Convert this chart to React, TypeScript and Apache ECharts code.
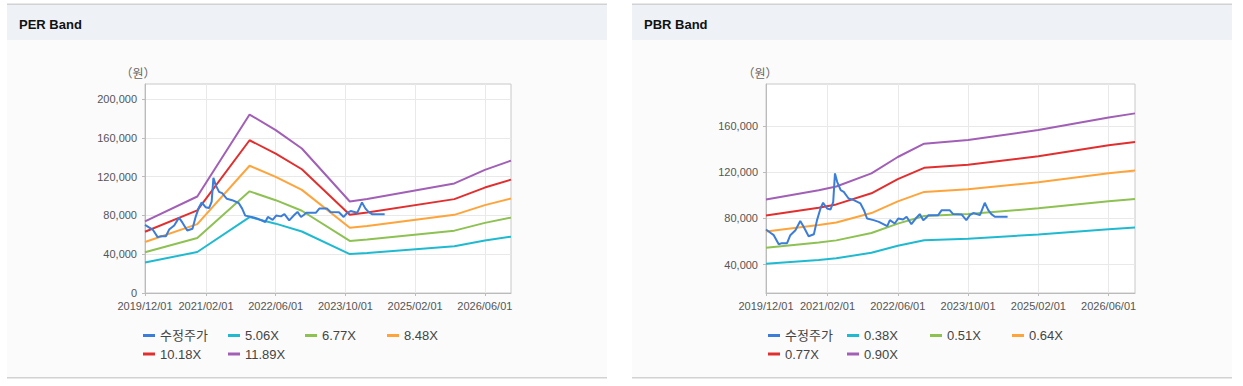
import React, { useEffect, useRef } from 'react';
import * as echarts from 'echarts';

// ---------- data ----------
const X_LABEL_DATES = ['2019/12/01', '2021/02/01', '2022/06/01', '2023/10/01', '2025/02/01', '2026/06/01'];
const AXIS_END_DATE = '2026/12/01';

const PRICE_NAME = '수정주가';
const PRICE_DATES = [
  '2019/12/01', '2020/01/01', '2020/01/24', '2020/02/28', '2020/03/19', '2020/04/25', '2020/05/17',
  '2020/06/22', '2020/07/25', '2020/08/19', '2020/09/22', '2020/10/28', '2020/11/19', '2020/12/13',
  '2021/01/01', '2021/01/28', '2021/02/22', '2021/03/10', '2021/03/22', '2021/04/07', '2021/05/01',
  '2021/05/22', '2021/06/25', '2021/08/01', '2021/09/16', '2021/10/10', '2021/11/01', '2021/12/16',
  '2022/01/22', '2022/03/19', '2022/04/07', '2022/05/10', '2022/06/04', '2022/07/07', '2022/08/01',
  '2022/09/04', '2022/10/10', '2022/11/01', '2022/11/25', '2022/12/16', '2023/01/01', '2023/03/07',
  '2023/04/01', '2023/05/25', '2023/06/19', '2023/08/16', '2023/09/19', '2023/10/13', '2023/11/07',
  '2023/12/22', '2024/01/25', '2024/02/19', '2024/03/10', '2024/04/04', '2024/07/01',
];
const PRICE_VALUES = [
  70300, 67500, 65400, 57600, 58500, 58500, 65400,
  69700, 77700, 72500, 64500, 66200, 78200, 88500,
  93400, 88500, 87600, 94200, 118800, 111500, 104300,
  102900, 97100, 95700, 92800, 87000, 79800, 78400,
  76900, 73200, 78400, 75500, 79800, 79000, 81300,
  74900, 80700, 83600, 78400, 80700, 82700, 82700,
  87000, 87000, 83600, 83300, 78400, 82700, 84500,
  82700, 93400, 87000, 83600, 81300, 81300,
];

// PER band
const PER_BAND_NAMES = ['5.06X', '6.77X', '8.48X', '10.18X', '11.89X'];
const PER_BAND_DATES = [
  '2019/12/01', '2020/12/01', '2021/12/01', '2022/06/01', '2022/12/01',
  '2023/11/01', '2024/03/01', '2025/11/01', '2026/06/01', '2026/12/01',
];
const PER_5_06X = [31400, 42300, 78300, 71500, 63400, 40100, 41300, 48100, 54100, 58100];
const PER_6_77X = [42000, 56700, 104800, 95700, 84800, 53700, 55200, 64300, 72300, 77700];
const PER_8_48X = [52600, 71000, 131200, 119800, 106300, 67300, 69200, 80600, 90600, 97400];
const PER_10_18X = [63200, 85200, 157500, 143800, 127600, 80700, 83100, 96800, 108700, 116900];
const PER_11_89X = [73800, 99500, 184000, 168000, 149000, 94300, 97000, 113000, 127000, 136500];
const PER_Y_TICKS = [0, 40000, 80000, 120000, 160000, 200000];

// PBR band
const PBR_BAND_NAMES = ['0.38X', '0.51X', '0.64X', '0.77X', '0.90X'];
const PBR_BAND_DATES = [
  '2019/12/01', '2020/12/01', '2021/04/01', '2021/12/01', '2022/06/01',
  '2022/12/01', '2023/10/01', '2025/02/01', '2026/06/01', '2026/12/01',
];
const PBR_0_38X = [40700, 44000, 45400, 50200, 56200, 61000, 62300, 66000, 70600, 72100];
const PBR_0_51X = [54600, 59100, 60900, 67300, 75400, 81900, 83600, 88600, 94700, 96700];
const PBR_0_64X = [68500, 74200, 76400, 84500, 94600, 102800, 105000, 111200, 118900, 121400];
const PBR_0_77X = [82400, 89200, 92000, 101600, 113800, 123600, 126300, 133700, 143100, 146000];
const PBR_0_90X = [96300, 104300, 107500, 118800, 133000, 144500, 147600, 156300, 167200, 170700];
const PBR_Y_TICKS = [40000, 80000, 120000, 160000];

// ---------- styling ----------
const PRICE_COLOR = '#3b7dd8';
const BAND_COLORS = ['#1fbad0', '#8dc152', '#ffa43a', '#e12f2f', '#a15fb6'];
const FONT = '"Liberation Sans", Arial, "Noto Sans CJK KR", sans-serif';

function monthIndex(d: string): number {
  const [y, m, dd] = d.split('/').map(Number);
  return (y - 2019) * 12 + (m - 12) + (dd - 1) / 30;
}

const X_TICKS = X_LABEL_DATES.map(monthIndex);
const X_MAX = monthIndex(AXIS_END_DATE);

function xLabel(v: number): string {
  const i = X_TICKS.findIndex((t) => Math.abs(t - v) < 0.01);
  return i >= 0 ? X_LABEL_DATES[i] : '';
}

function pairs(dates: string[], vals: number[]) {
  return dates.map((d, i) => [monthIndex(d), vals[i]]);
}

function buildAxes(gridIndex: number, yMin: number, yMax: number, yTicks: number[]) {
  const x = {
    type: 'value',
    gridIndex,
    min: 0,
    max: X_MAX,
    axisLine: { show: true, lineStyle: { color: '#bbbbbb' } },
    axisTick: { show: true, customValues: X_TICKS, length: 3, lineStyle: { color: '#bbbbbb' } },
    axisLabel: {
      customValues: X_TICKS,
      formatter: (v: number) => xLabel(v),
      fontSize: 11,
      color: '#555555',
      fontFamily: FONT,
      margin: 7,
    },
    splitLine: { show: true, lineStyle: { color: '#e9e9e9', width: 1 } },
  };
  const y = {
    type: 'value',
    gridIndex,
    min: yMin,
    max: yMax,
    axisLine: { show: true, lineStyle: { color: '#bbbbbb' } },
    axisTick: { show: true, customValues: yTicks, length: 3, lineStyle: { color: '#bbbbbb' } },
    axisLabel: {
      customValues: yTicks,
      formatter: (v: number) => v.toLocaleString('en-US'),
      fontSize: 11,
      color: '#555555',
      fontFamily: FONT,
      margin: 8,
    },
    splitLine: { show: true, lineStyle: { color: '#e9e9e9', width: 1 } },
  };
  return { x, y };
}

function lineSeries(name: string, data: number[][], color: string, idx: number, z: number) {
  return {
    type: 'line',
    name,
    data,
    xAxisIndex: idx,
    yAxisIndex: idx,
    showSymbol: false,
    symbol: 'none',
    color,
    lineStyle: { color, width: 2 },
    z,
  };
}

function legendItems(names: string[], positions: number[][]) {
  return names.map((n, i) => ({
    data: [n],
    left: positions[i][0],
    top: positions[i][1],
    icon: 'rect',
    itemWidth: 12,
    itemHeight: 3,
    padding: 0,
    selectedMode: false,
    textStyle: { fontSize: 13, color: '#444444', fontFamily: FONT },
  }));
}

function panel(x: number, title: string, unitX: number) {
  return [
    { type: 'rect', z: -100, shape: { x, y: 40, width: 600, height: 337 }, style: { fill: '#fbfbfb' } },
    { type: 'rect', z: -100, shape: { x, y: 5, width: 600, height: 35 }, style: { fill: '#eef2f7' } },
    { type: 'rect', z: -100, shape: { x, y: 3.5, width: 600, height: 1.5 }, style: { fill: '#d2d2d2' } },
    { type: 'rect', z: -100, shape: { x, y: 377, width: 600, height: 1.5 }, style: { fill: '#d2d2d2' } },
    {
      type: 'text',
      x: x + 12,
      y: 24,
      style: {
        text: title,
        fill: '#111111',
        font: `bold 13px ${FONT}`,
        textVerticalAlign: 'middle',
        verticalAlign: 'middle',
      },
    },
    {
      type: 'text',
      x: unitX,
      y: 72,
      style: {
        text: '（원）',
        fill: '#666666',
        font: `12px "Noto Sans CJK KR", sans-serif`,
        align: 'center',
        textAlign: 'center',
        verticalAlign: 'middle',
        textVerticalAlign: 'middle',
      },
    },
  ];
}

export default function App() {
  const ref = useRef<HTMLDivElement>(null);

  useEffect(() => {
    if (!ref.current) return;
    const chart = echarts.init(ref.current, undefined, { renderer: 'svg' });

    const perAxes = buildAxes(0, 0, 215500, PER_Y_TICKS);
    const pbrAxes = buildAxes(1, 15400, 196100, PBR_Y_TICKS);

    const perBands = [PER_5_06X, PER_6_77X, PER_8_48X, PER_10_18X, PER_11_89X];
    const pbrBands = [PBR_0_38X, PBR_0_51X, PBR_0_64X, PBR_0_77X, PBR_0_90X];

    const series: any[] = [];
    perBands.forEach((vals, i) =>
      series.push(lineSeries(PER_BAND_NAMES[i], pairs(PER_BAND_DATES, vals), BAND_COLORS[i], 0, 2))
    );
    series.push(lineSeries(PRICE_NAME, pairs(PRICE_DATES, PRICE_VALUES), PRICE_COLOR, 0, 3));
    pbrBands.forEach((vals, i) =>
      series.push(lineSeries(PBR_BAND_NAMES[i], pairs(PBR_BAND_DATES, vals), BAND_COLORS[i], 1, 2))
    );
    series.push(lineSeries(PRICE_NAME, pairs(PRICE_DATES, PRICE_VALUES), PRICE_COLOR, 1, 3));

    const perLegendPos = [[143, 329], [228, 329], [305, 329], [387, 329], [143, 347.5], [228, 347.5]];
    const pbrLegendPos = [[768, 329], [847, 329], [930, 329], [1012, 329], [768, 347.5], [847, 347.5]];

    chart.setOption({
      animation: false,
      backgroundColor: '#ffffff',
      textStyle: { fontFamily: FONT },
      grid: [
        { left: 145, top: 84, width: 366, height: 209, show: true, borderColor: '#c8c8c8', borderWidth: 1, backgroundColor: '#ffffff', containLabel: false },
        { left: 766, top: 84, width: 369, height: 209, show: true, borderColor: '#c8c8c8', borderWidth: 1, backgroundColor: '#ffffff', containLabel: false },
      ],
      xAxis: [perAxes.x, pbrAxes.x],
      yAxis: [perAxes.y, pbrAxes.y],
      legend: [
        ...legendItems([PRICE_NAME, ...PER_BAND_NAMES], perLegendPos),
        ...legendItems([PRICE_NAME, ...PBR_BAND_NAMES], pbrLegendPos),
      ],
      graphic: { elements: [...panel(7, 'PER Band', 138), ...panel(632, 'PBR Band', 760)] },
      series,
    });

    return () => chart.dispose();
  }, []);

  return (
    <div
      ref={ref}
      style={{ position: 'absolute', left: 0, top: 0, width: 1243, height: 386 }}
    />
  );
}
